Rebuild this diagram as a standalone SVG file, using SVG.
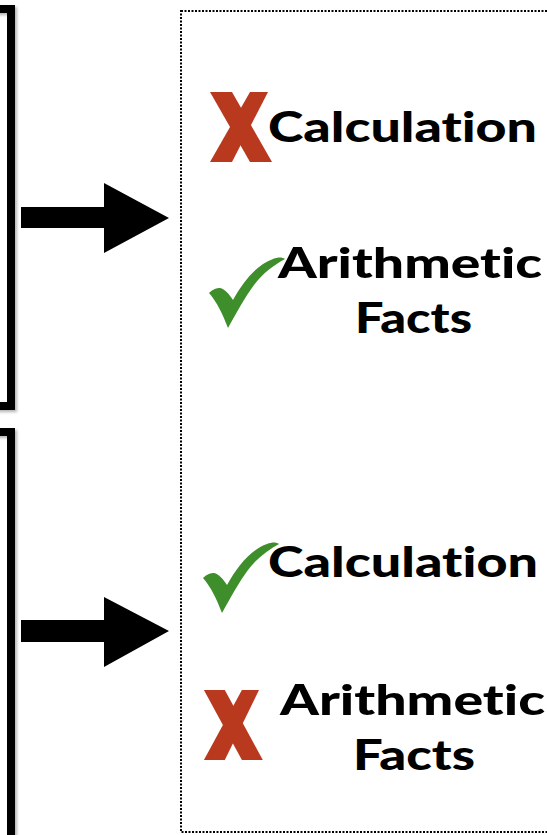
<svg xmlns="http://www.w3.org/2000/svg" width="547" height="835" viewBox="0 0 547 835">
<defs>
<style>
.box{fill:none;stroke:#000;stroke-width:8}
.panel{fill:#fff;stroke:#000;stroke-width:2;stroke-dasharray:2 1.5}
.lbl{font-family:Lato,"DejaVu Sans",sans-serif;font-weight:900;font-size:42px;fill:#000;font-variant-ligatures:none;font-feature-settings:"liga" 0,"clig" 0}
.x{fill:#b9391f}
.chk{fill:#3e8e2b}
.arrow{fill:#000}
</style>
<filter id="sh" filterUnits="userSpaceOnUse" x="-50" y="-20" width="120" height="900">
<feGaussianBlur in="SourceAlpha" stdDeviation="1.5"/>
<feOffset dx="1.5" dy="1.5"/>
<feComponentTransfer><feFuncA type="linear" slope="0.3"/></feComponentTransfer>
<feMerge><feMergeNode/><feMergeNode in="SourceGraphic"/></feMerge>
</filter>
<g id="xmark-shape">
<polygon points="2,0 24,0 64,70 42,70"/>
<polygon points="42,0 60,0 24,70 2,70"/>
</g>
<path id="check-shape" d="M1,36 C5,32 9,31 12,31 C17,32 21,37 25,43 C35,25 48,8 65,2 C70,0 74,0 77,2 C66,8 55,16 46,28 C37,40 29,55 20,71 C15,58 9,45 1,36 Z"/>
</defs>
<rect width="547" height="835" fill="#fff"/>

<g id="box-top"><rect class="box" x="-20" y="9" width="31" height="397" filter="url(#sh)"/></g>
<g id="box-bottom"><rect class="box" x="-20" y="432" width="31" height="420" filter="url(#sh)"/></g>

<g id="panel"><rect class="panel" x="181" y="11" width="380" height="821"/></g>

<g id="connectors">
<polygon class="arrow" points="21,207 104,207 104,183 169,218 104,253 104,228 21,228"/>
<polygon class="arrow" points="21,620 104,620 104,597 169,631 104,667 104,642 21,642"/>
</g>

<g id="top-calculation">
<use href="#xmark-shape" class="x" transform="translate(208,92)"/>
<text class="lbl" x="268" y="142" textLength="269" lengthAdjust="spacingAndGlyphs">Calculation</text>
</g>
<g id="top-facts">
<use href="#check-shape" class="chk" transform="translate(208,257)"/>
<text class="lbl" x="278" y="278" textLength="264" lengthAdjust="spacingAndGlyphs">Arithmetic</text>
<text class="lbl" x="355" y="333" textLength="117" lengthAdjust="spacingAndGlyphs">Facts</text>
</g>
<g id="bottom-calculation">
<use href="#check-shape" class="chk" transform="translate(202,542)"/>
<text class="lbl" x="268" y="577" textLength="270" lengthAdjust="spacingAndGlyphs">Calculation</text>
</g>
<g id="bottom-facts">
<use href="#xmark-shape" class="x" transform="translate(202,690) scale(0.95,1)"/>
<text class="lbl" x="280" y="715" textLength="265" lengthAdjust="spacingAndGlyphs">Arithmetic</text>
<text class="lbl" x="353" y="770" textLength="122" lengthAdjust="spacingAndGlyphs">Facts</text>
</g>
</svg>
